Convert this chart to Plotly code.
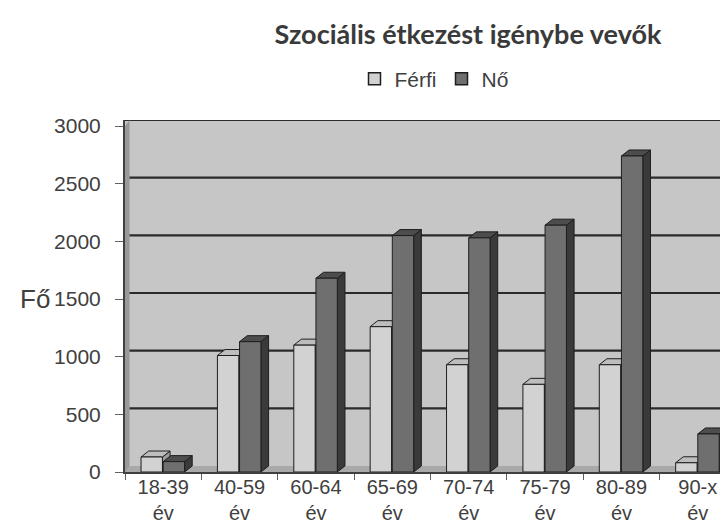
import plotly.graph_objects as go

# ---- data ----
CATEGORIES = ["18-39<br>év", "40-59<br>év", "60-64<br>év", "65-69<br>év",
              "70-74<br>év", "75-79<br>év", "80-89<br>év", "90-x<br>év"]
FERFI = [130, 1010, 1100, 1260, 930, 760, 930, 80]
NO = [90, 1130, 1680, 2050, 2030, 2140, 2740, 330]
Y_TICKS = [0, 500, 1000, 1500, 2000, 2500, 3000]
SERIES_NAMES = ["Férfi", "Nő"]
TITLE = "Szociális étkezést igénybe vevők"
Y_TITLE = "Fő"

# ---- style ----
BAR_W = 0.28
DX = 0.1        # depth in category units
DY = 52         # depth in value units
WALL = "#c6c6c6"
FLOOR = "#a9a9a9"
EDGE = "#1e1e1e"
TEXT = "#404040"
STYLES = [
    dict(offset=-0.29, front="#d2d2d2", side="#9c9c9c", top="#bdbdbd"),
    dict(offset=0.0, front="#6f6f6f", side="#3a3a3a", top="#4d4d4d"),
]


def faces(values, offset):
    fx, fy, sx, sy, tx, ty = [], [], [], [], [], []
    for i, v in enumerate(values):
        x0 = i + offset
        x1 = x0 + BAR_W
        fx += [x0, x1, x1, x0, x0, None]
        fy += [0, 0, v, v, 0, None]
        sx += [x1, x1 + DX, x1 + DX, x1, x1, None]
        sy += [0, DY, v + DY, v, 0, None]
        tx += [x0, x1, x1 + DX, x0 + DX, x0, None]
        ty += [v, v, v + DY, v + DY, v, None]
    return (fx, fy), (sx, sy), (tx, ty)


fig = go.Figure()
n = len(CATEGORIES)

for name, vals, st in zip(SERIES_NAMES, [FERFI, NO], STYLES):
    front, side, top = faces(vals, st["offset"])
    for (xs, ys), col in [(side, st["side"]), (top, st["top"]), (front, st["front"])]:
        fig.add_trace(go.Scatter(
            x=xs, y=ys, mode="lines", fill="toself", fillcolor=col,
            line=dict(color=EDGE, width=1), showlegend=False,
            hoverinfo="skip"))

# legend entries
for name, st in zip(SERIES_NAMES, STYLES):
    fig.add_trace(go.Bar(x=[None], y=[None], name=name,
                         marker=dict(color=st["front"], line=dict(color=EDGE, width=1.5))))

shapes = []
# floor
shapes.append(dict(type="rect", xref="x", yref="y", x0=-0.5, x1=n - 0.5, y0=0, y1=DY,
                   fillcolor=FLOOR, line=dict(width=0), layer="below"))
# back-wall gridlines
for t in Y_TICKS[1:]:
    shapes.append(dict(type="line", xref="paper", yref="y", x0=0, x1=1, y0=t + DY, y1=t + DY,
                       line=dict(color="#2a2a2a", width=2.2), layer="below"))
# left side wall
shapes.append(dict(type="path", xref="x", yref="y",
                   path=f"M -0.5,0 L {-0.5 + 0.06},{DY} L {-0.5 + 0.06},{Y_TICKS[-1] + DY} L -0.5,{Y_TICKS[-1]} Z",
                   fillcolor="#9a9a9a", line=dict(width=0), layer="below"))

fig.update_layout(
    width=728, height=526,
    margin=dict(l=117, r=0, t=112, b=62),
    paper_bgcolor="white", plot_bgcolor=WALL,
    font=dict(family="Liberation Sans, Arial, sans-serif", color=TEXT),
    title=dict(text=f"<b>{TITLE}</b>", font=dict(family="Lato, Carlito, sans-serif", size=27, color="#3a3a3a"),
               x=460 / 728, xanchor="center", y=1 - 27 / 526, yanchor="middle",
               xref="container", yref="container"),
    legend=dict(orientation="h", xref="container", yref="container",
                x=426 / 728, xanchor="center", y=1 - 71 / 526, yanchor="middle",
                font=dict(size=21, color=TEXT), bgcolor="rgba(0,0,0,0)",
                itemwidth=30, tracegroupgap=0),
    shapes=shapes,
    showlegend=True,
    xaxis=dict(range=[-0.5, n - 0.5], tickvals=list(range(n)), ticktext=CATEGORIES,
               showgrid=False, zeroline=False, showline=True, linecolor="#404040", linewidth=2,
               ticks="", tickfont=dict(size=20, color=TEXT), ticklabelstandoff=-4,
               minor=dict(tickvals=[i - 0.5 for i in range(n + 1)], ticks="outside",
                          ticklen=6, tickcolor="#606060", showgrid=False)),
    yaxis=dict(range=[0, Y_TICKS[-1] + DY], tickvals=Y_TICKS, showgrid=False, zeroline=False,
               showline=True, linecolor="#404040", linewidth=2, ticks="outside", ticklen=8,
               tickcolor="#606060", tickfont=dict(size=21, color=TEXT), ticklabelstandoff=10),
    annotations=[dict(text=Y_TITLE, xref="paper", yref="y", x=(27 - 117) / 611, y=1500,
                      xanchor="center", yanchor="middle", showarrow=False,
                      font=dict(size=26, color=TEXT))],
)

fig.write_html("out.html")
